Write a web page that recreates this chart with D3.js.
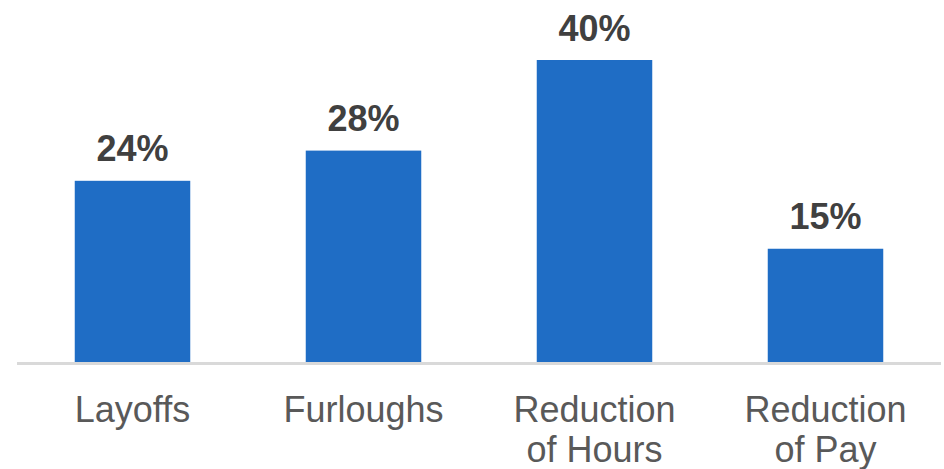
<!DOCTYPE html>
<html>
<head>
<meta charset="utf-8">
<script src="https://cdn.jsdelivr.net/npm/d3@7"></script>
<style>
  html, body { margin: 0; padding: 0; background: #ffffff; }
  svg { display: block; }
</style>
</head>
<body>
<svg id="chart" width="944" height="469"></svg>
<script>
// Share of employers taking each cost-cutting action
const categories = [["Layoffs"], ["Furloughs"], ["Reduction", "of Hours"], ["Reduction", "of Pay"]];
const values = [24, 28, 40, 15];
const valueLabels = ["24%", "28%", "40%", "15%"];

const svg = d3.select("#chart");
const baseline = 362;

const keys = categories.map(c => c.join(" "));
const x = d3.scaleBand()
  .domain(keys)
  .range([17, 941])
  .paddingInner(0.5)
  .paddingOuter(0.25);

const y = d3.scaleLinear()
  .domain([0, 40])
  .range([baseline, 60]);

// bars
svg.append("g")
  .selectAll("rect")
  .data(values)
  .join("rect")
  .attr("x", (d, i) => x(keys[i]))
  .attr("y", d => y(d))
  .attr("width", x.bandwidth())
  .attr("height", d => y(0) - y(d))
  .attr("fill", "#1f6dc5");

// category axis line
svg.append("line")
  .attr("x1", x.range()[0])
  .attr("x2", x.range()[1])
  .attr("y1", baseline + 1.5)
  .attr("y2", baseline + 1.5)
  .attr("stroke", "#d9d9d9")
  .attr("stroke-width", 3);

// value labels above bars
svg.append("g")
  .selectAll("text")
  .data(values)
  .join("text")
  .attr("x", (d, i) => x(keys[i]) + x.bandwidth() / 2)
  .attr("y", d => y(d) - 19.5)
  .attr("text-anchor", "middle")
  .attr("font-family", "Arial, 'Liberation Sans', sans-serif")
  .attr("font-weight", "bold")
  .attr("font-size", 36)
  .attr("fill", "#404040")
  .text((d, i) => valueLabels[i]);

// category labels (may wrap onto two lines)
const cat = svg.append("g")
  .selectAll("text")
  .data(categories)
  .join("text")
  .attr("x", (d, i) => x(keys[i]) + x.bandwidth() / 2)
  .attr("y", 421.7)
  .attr("text-anchor", "middle")
  .attr("font-family", "Arial, 'Liberation Sans', sans-serif")
  .attr("font-size", 36)
  .attr("fill", "#595959");

cat.selectAll("tspan")
  .data(d => d)
  .join("tspan")
  .attr("x", function () { return d3.select(this.parentNode).attr("x"); })
  .attr("dy", (d, i) => i === 0 ? 0 : 40)
  .text(d => d);
</script>
</body>
</html>
